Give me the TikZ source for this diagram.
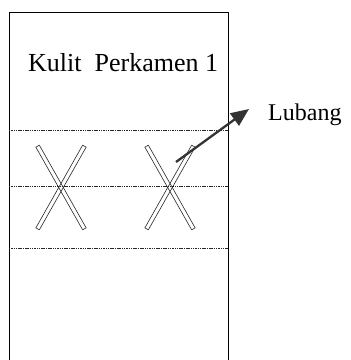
\documentclass[tikz,border=0pt]{standalone}
\usepackage{fontspec}
\setmainfont{Liberation Serif}
\usetikzlibrary{arrows.meta}
\definecolor{inkgray}{HTML}{333333}
\tikzset{
  frame/.style={draw=black, line width=0.9pt},
  divider/.style={draw=black!85, line width=0.7pt, dash pattern=on 1.5pt off 0.8pt},
  barline/.style={draw=black!85, line width=0.6pt},
  pointer/.style={draw=inkgray, line width=2.3pt, -{Triangle[length=18pt,width=15pt]}},
  xmark/.pic={
    \foreach \a in {29.5,-29.5}{
      \draw[barline, rotate=\a] (-2,-47.5) rectangle (2,47.5);
    }
  }
}
\begin{document}
\begin{tikzpicture}[x=1pt,y=-1pt]
\useasboundingbox (0,0) rectangle (351,360);
% sheet
\draw[frame] (9,365) -- (9,12) -- (228,12) -- (228,365);
% dividers
\draw[divider] (9,130) -- (228,130);
\draw[divider] (9,186) -- (228,186);
\draw[divider] (9,248) -- (228,248);
% title
\node[anchor=base west, inner sep=0pt, font=\fontsize{26}{30}\selectfont] (title) at (28,71) {Kulit\ \ Perkamen 1};
% X marks
\pic at (61,187.5) {xmark};
\pic at (170,187.5) {xmark};
% label
\node[anchor=base west, inner sep=0pt, font=\fontsize{24}{28}\selectfont] (lub) at (268,120) {Lubang};
\coordinate (hole) at (176,162);
\coordinate (tip) at (249,109);
\draw[pointer] (hole) -- (tip);
\end{tikzpicture}
\end{document}
